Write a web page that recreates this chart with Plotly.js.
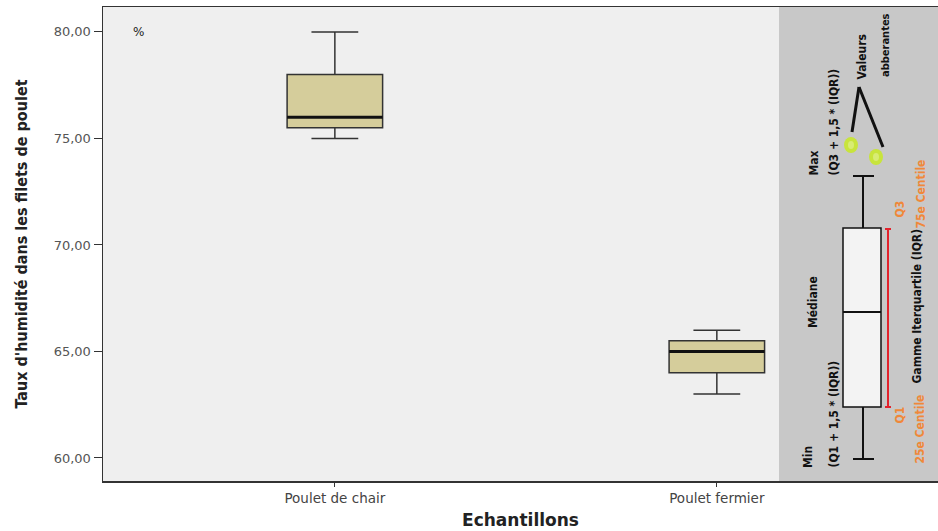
<!DOCTYPE html>
<html>
<head>
<meta charset="utf-8">
<script src="https://cdn.plot.ly/plotly-3.0.1.min.js"></script>
<style>html,body{margin:0;padding:0;background:#fff;}#chart{width:938px;height:531px;}</style>
</head>
<body>
<div id="chart"></div>
<script>
// ---- data ----
const categories = ["Poulet de chair", "Poulet fermier"];
const lowerFence = [75.0, 63.0];
const q1Values   = [75.5, 64.0];
const medians    = [76.0, 65.0];
const q3Values   = [78.0, 65.5];
const upperFence = [80.0, 66.0];
const yTicks = [60, 65, 70, 75, 80];

// ---- layout helpers (plot area in pixels: x 103..938, y 7..481) ----
const L = 103, R = 938, T = 7, B = 481;
const px = x => (x - L) / (R - L);
const py = y => (B - y) / (B - T);

const boxWidth = 0.25;
const narrow = "Liberation Sans Narrow, DejaVu Sans Condensed, Arial Narrow, sans-serif";
const wide = "DejaVu Sans, Verdana, sans-serif";

const trace = {
  type: "box",
  x: categories,
  q1: q1Values,
  median: medians,
  q3: q3Values,
  lowerfence: lowerFence,
  upperfence: upperFence,
  width: boxWidth,
  whiskerwidth: 0.49,
  fillcolor: "#d5cd9b",
  line: {color: "#333333", width: 1.5},
  boxpoints: false,
  hoverinfo: "skip",
  showlegend: false
};

const shapes = [];
// thick median lines
categories.forEach((c, i) => {
  shapes.push({type: "line", xref: "x", yref: "y", x0: i - boxWidth / 2, x1: i + boxWidth / 2,
    y0: medians[i], y1: medians[i], line: {color: "#111", width: 3}, layer: "above"});
});
// gray legend panel
shapes.push({type: "rect", xref: "paper", yref: "paper", x0: px(779), x1: 1, y0: 0, y1: 1,
  fillcolor: "#c8c8c8", line: {width: 0}, layer: "below"});
// legend box
shapes.push({type: "rect", xref: "paper", yref: "paper", x0: px(843), x1: px(881), y0: py(407), y1: py(228),
  fillcolor: "#f3f3f3", line: {color: "#111", width: 1.5}, layer: "above"});
// legend median
shapes.push({type: "line", xref: "paper", yref: "paper", x0: px(843), x1: px(881), y0: py(312), y1: py(312),
  line: {color: "#111", width: 2}, layer: "above"});
// whiskers
shapes.push({type: "line", xref: "paper", yref: "paper", x0: px(863), x1: px(863), y0: py(228), y1: py(176),
  line: {color: "#111", width: 2}, layer: "above"});
shapes.push({type: "line", xref: "paper", yref: "paper", x0: px(853), x1: px(874), y0: py(176), y1: py(176),
  line: {color: "#111", width: 2}, layer: "above"});
shapes.push({type: "line", xref: "paper", yref: "paper", x0: px(863), x1: px(863), y0: py(407), y1: py(459),
  line: {color: "#111", width: 2}, layer: "above"});
shapes.push({type: "line", xref: "paper", yref: "paper", x0: px(853), x1: px(874), y0: py(459), y1: py(459),
  line: {color: "#111", width: 2}, layer: "above"});
// red IQR line
shapes.push({type: "line", xref: "paper", yref: "paper", x0: px(888), x1: px(888), y0: py(229), y1: py(407),
  line: {color: "#e3222c", width: 2}, layer: "above"});
shapes.push({type: "line", xref: "paper", yref: "paper", x0: px(885), x1: px(891), y0: py(229), y1: py(229),
  line: {color: "#e3222c", width: 2}, layer: "above"});
shapes.push({type: "line", xref: "paper", yref: "paper", x0: px(885), x1: px(891), y0: py(407), y1: py(407),
  line: {color: "#e3222c", width: 2}, layer: "above"});
// outlier circles
[[851, 145], [876, 157]].forEach(([cx, cy]) => {
  shapes.push({type: "circle", xref: "paper", yref: "paper", x0: px(cx - 7), x1: px(cx + 7), y0: py(cy + 8), y1: py(cy - 8),
    fillcolor: "#c8e43c", line: {width: 0}, layer: "above"});
  shapes.push({type: "circle", xref: "paper", yref: "paper", x0: px(cx - 3), x1: px(cx + 3), y0: py(cy + 4), y1: py(cy - 4),
    fillcolor: "#d8ec74", line: {width: 0}, layer: "above"});
});
// pointer lines
shapes.push({type: "line", xref: "paper", yref: "paper", x0: px(859), x1: px(852), y0: py(87), y1: py(132),
  line: {color: "#111", width: 3}, layer: "above"});
shapes.push({type: "line", xref: "paper", yref: "paper", x0: px(859), x1: px(883), y0: py(87), y1: py(147),
  line: {color: "#111", width: 3}, layer: "above"});

function rot(text, x, yBottom, color, size) {
  return {text: "<b>" + text + "</b>", xref: "paper", yref: "paper",
    x: px(x), y: py(yBottom), xanchor: "center", yanchor: "bottom", textangle: -90, showarrow: false,
    font: {family: narrow, size: size || 12, color: color || "#111"}};
}
const orange = "#f0883a";
const annotations = [
  {text: "%", xref: "paper", yref: "paper", x: px(138), y: py(32), xanchor: "center", yanchor: "middle",
    showarrow: false, font: {family: wide, size: 12, color: "#222"}},
  rot("Valeurs", 862, 82),
  rot("abberantes", 885, 79, null, 11),
  rot("Max", 813, 178),
  rot("(Q3 + 1,5 * (IQR))", 833, 178),
  rot("Médiane", 813, 330),
  rot("Min", 808, 470),
  rot("(Q1 + 1,5 * (IQR))", 833, 470),
  rot("Gamme Iterquartile (IQR)", 916, 386),
  rot("Q3", 900, 220, orange),
  rot("75e Centile", 920, 231, orange),
  rot("Q1", 899, 426, orange),
  rot("25e Centile", 919, 466, orange)
];

const layout = {
  width: 938, height: 531,
  margin: {l: L, r: 938 - R, t: T, b: 531 - B, pad: 0},
  paper_bgcolor: "#ffffff",
  plot_bgcolor: "#efefef",
  separators: ", ",
  showlegend: false,
  xaxis: {
    type: "category",
    range: [-0.607, 1.579],
    showgrid: false, zeroline: false,
    showline: true, linecolor: "#333", linewidth: 1.5, mirror: true,
    ticks: "outside", ticklen: 4, tickcolor: "#333",
    tickfont: {family: wide, size: 13.5, color: "#444"},
    title: {text: "<b>Echantillons</b>", standoff: 9,
      font: {family: wide, size: 17, color: "#222"}}
  },
  yaxis: {
    range: [58.92, 81.17],
    tickvals: yTicks,
    tickformat: ".2f",
    showgrid: false, zeroline: false,
    showline: true, linecolor: "#333", linewidth: 1.5, mirror: true,
    ticks: "outside", ticklen: 8, tickcolor: "#333",
    tickfont: {family: wide, size: 13, color: "#555"},
    title: {text: "<b>Taux d'humidité dans les filets de poulet</b>", standoff: 22,
      font: {family: narrow, size: 16, color: "#222"}}
  },
  shapes: shapes,
  annotations: annotations
};

Plotly.newPlot("chart", [trace], layout, {displayModeBar: false, staticPlot: true});
</script>
</body>
</html>
